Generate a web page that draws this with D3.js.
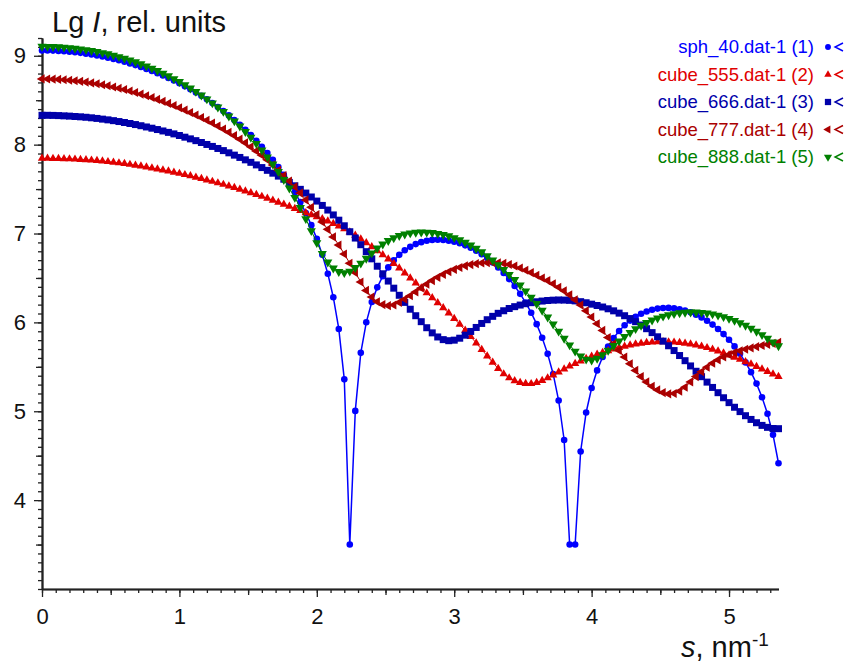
<!DOCTYPE html>
<html>
<head>
<meta charset="utf-8">
<script src="https://cdn.jsdelivr.net/npm/d3@7"></script>
<style>
body { margin: 0; background: #fff; }
text { font-family: "Liberation Sans", Arial, sans-serif; }
</style>
</head>
<body>
<div id="scatter"></div>
<script>
// s values (nm^-1)
var sValues = [0, 0.04, 0.08, 0.12, 0.16, 0.2, 0.24, 0.28, 0.32, 0.36,
    0.4, 0.44, 0.48, 0.52, 0.56, 0.6, 0.64, 0.68, 0.72, 0.76,
    0.8, 0.84, 0.88, 0.92, 0.96, 1, 1.04, 1.08, 1.12, 1.16,
    1.2, 1.24, 1.28, 1.32, 1.36, 1.4, 1.44, 1.48, 1.52, 1.56,
    1.6, 1.64, 1.68, 1.72, 1.76, 1.8, 1.84, 1.88, 1.92, 1.96,
    2, 2.04, 2.08, 2.12, 2.16, 2.2, 2.24, 2.28, 2.32, 2.36,
    2.4, 2.44, 2.48, 2.52, 2.56, 2.6, 2.64, 2.68, 2.72, 2.76,
    2.8, 2.84, 2.88, 2.92, 2.96, 3, 3.04, 3.08, 3.12, 3.16,
    3.2, 3.24, 3.28, 3.32, 3.36, 3.4, 3.44, 3.48, 3.52, 3.56,
    3.6, 3.64, 3.68, 3.72, 3.76, 3.8, 3.84, 3.88, 3.92, 3.96,
    4, 4.04, 4.08, 4.12, 4.16, 4.2, 4.24, 4.28, 4.32, 4.36,
    4.4, 4.44, 4.48, 4.52, 4.56, 4.6, 4.64, 4.68, 4.72, 4.76,
    4.8, 4.84, 4.88, 4.92, 4.96, 5, 5.04, 5.08, 5.12, 5.16,
    5.2, 5.24, 5.28, 5.32, 5.36];

// Lg I for each curve
var sph40 = [9.060, 9.059, 9.058, 9.055, 9.051, 9.046, 9.040, 9.033, 9.024, 9.015,
    9.004, 8.992, 8.979, 8.965, 8.949, 8.932, 8.914, 8.895, 8.874, 8.852,
    8.829, 8.804, 8.778, 8.750, 8.721, 8.690, 8.657, 8.623, 8.587, 8.549,
    8.510, 8.468, 8.424, 8.378, 8.329, 8.278, 8.224, 8.167, 8.107, 8.043,
    7.976, 7.905, 7.829, 7.747, 7.660, 7.566, 7.465, 7.353, 7.231, 7.094,
    6.940, 6.761, 6.548, 6.283, 5.926, 5.359, 3.500, 5.004, 5.657, 6.001,
    6.229, 6.394, 6.520, 6.619, 6.698, 6.760, 6.811, 6.850, 6.881, 6.903,
    6.919, 6.928, 6.931, 6.928, 6.920, 6.907, 6.890, 6.867, 6.839, 6.806,
    6.768, 6.724, 6.674, 6.619, 6.557, 6.487, 6.409, 6.321, 6.222, 6.109,
    5.980, 5.828, 5.646, 5.420, 5.121, 4.677, 3.500, 3.500, 4.547, 4.986,
    5.262, 5.460, 5.610, 5.729, 5.825, 5.903, 5.968, 6.020, 6.063, 6.097,
    6.123, 6.142, 6.155, 6.162, 6.163, 6.158, 6.148, 6.133, 6.113, 6.087,
    6.056, 6.018, 5.975, 5.925, 5.868, 5.804, 5.730, 5.646, 5.550, 5.440,
    5.311, 5.158, 4.972, 4.736, 4.415];

var cube555 = [7.845, 7.845, 7.844, 7.843, 7.841, 7.839, 7.836, 7.833, 7.829, 7.825,
    7.820, 7.814, 7.808, 7.801, 7.794, 7.786, 7.777, 7.768, 7.758, 7.748,
    7.737, 7.726, 7.714, 7.702, 7.689, 7.676, 7.662, 7.648, 7.633, 7.618,
    7.602, 7.586, 7.569, 7.552, 7.534, 7.516, 7.497, 7.478, 7.458, 7.438,
    7.417, 7.396, 7.374, 7.352, 7.329, 7.305, 7.281, 7.257, 7.232, 7.210,
    7.188, 7.165, 7.140, 7.113, 7.084, 7.052, 7.017, 6.979, 6.938, 6.895,
    6.850, 6.805, 6.760, 6.712, 6.662, 6.610, 6.555, 6.498, 6.442, 6.386,
    6.331, 6.276, 6.220, 6.163, 6.105, 6.043, 5.978, 5.910, 5.840, 5.768,
    5.695, 5.622, 5.550, 5.480, 5.420, 5.375, 5.343, 5.322, 5.311, 5.310,
    5.322, 5.345, 5.375, 5.408, 5.442, 5.475, 5.507, 5.537, 5.565, 5.592,
    5.617, 5.640, 5.661, 5.681, 5.699, 5.716, 5.731, 5.745, 5.756, 5.765,
    5.772, 5.777, 5.780, 5.781, 5.780, 5.777, 5.772, 5.765, 5.756, 5.745,
    5.731, 5.715, 5.697, 5.677, 5.655, 5.632, 5.608, 5.583, 5.557, 5.530,
    5.502, 5.474, 5.446, 5.418, 5.390];

var cube666 = [8.330, 8.330, 8.329, 8.327, 8.324, 8.321, 8.317, 8.313, 8.308, 8.302,
    8.295, 8.287, 8.279, 8.270, 8.260, 8.249, 8.238, 8.226, 8.213, 8.199,
    8.185, 8.170, 8.154, 8.138, 8.121, 8.103, 8.084, 8.065, 8.045, 8.024,
    8.002, 7.980, 7.957, 7.933, 7.908, 7.882, 7.856, 7.829, 7.801, 7.772,
    7.742, 7.711, 7.679, 7.646, 7.611, 7.575, 7.537, 7.497, 7.455, 7.411,
    7.365, 7.316, 7.264, 7.209, 7.150, 7.087, 7.020, 6.949, 6.874, 6.796,
    6.715, 6.632, 6.547, 6.465, 6.385, 6.305, 6.225, 6.148, 6.075, 6.008,
    5.940, 5.882, 5.836, 5.806, 5.794, 5.800, 5.822, 5.856, 5.898, 5.943,
    5.988, 6.030, 6.068, 6.102, 6.131, 6.156, 6.177, 6.195, 6.210, 6.222,
    6.232, 6.240, 6.246, 6.250, 6.252, 6.251, 6.248, 6.242, 6.233, 6.221,
    6.205, 6.190, 6.173, 6.153, 6.130, 6.104, 6.075, 6.043, 6.008, 5.970,
    5.929, 5.885, 5.838, 5.789, 5.737, 5.683, 5.627, 5.569, 5.510, 5.450,
    5.389, 5.328, 5.268, 5.209, 5.152, 5.097, 5.045, 4.996, 4.950, 4.908,
    4.871, 4.841, 4.819, 4.806, 4.804];

var cube777 = [8.740, 8.739, 8.737, 8.734, 8.730, 8.725, 8.719, 8.712, 8.704, 8.695,
    8.685, 8.674, 8.662, 8.649, 8.635, 8.620, 8.604, 8.587, 8.569, 8.550,
    8.530, 8.509, 8.487, 8.464, 8.440, 8.415, 8.389, 8.362, 8.334, 8.305,
    8.275, 8.243, 8.210, 8.176, 8.140, 8.102, 8.062, 8.020, 7.975, 7.928,
    7.880, 7.829, 7.772, 7.712, 7.652, 7.590, 7.525, 7.455, 7.378, 7.295,
    7.212, 7.130, 7.047, 6.962, 6.870, 6.770, 6.665, 6.560, 6.455, 6.360,
    6.285, 6.232, 6.200, 6.188, 6.195, 6.225, 6.260, 6.300, 6.343, 6.387,
    6.430, 6.470, 6.507, 6.540, 6.570, 6.596, 6.618, 6.636, 6.650, 6.661,
    6.668, 6.672, 6.673, 6.670, 6.664, 6.652, 6.635, 6.612, 6.587, 6.560,
    6.530, 6.500, 6.470, 6.435, 6.395, 6.355, 6.310, 6.255, 6.195, 6.130,
    6.060, 5.985, 5.910, 5.830, 5.760, 5.685, 5.610, 5.535, 5.460, 5.390,
    5.330, 5.280, 5.240, 5.210, 5.195, 5.200, 5.225, 5.270, 5.330, 5.390,
    5.445, 5.495, 5.540, 5.578, 5.610, 5.637, 5.660, 5.680, 5.698, 5.713,
    5.727, 5.740, 5.752, 5.764, 5.775];

var cube888 = [9.105, 9.104, 9.102, 9.099, 9.095, 9.090, 9.083, 9.076, 9.067, 9.057,
    9.046, 9.033, 9.020, 9.005, 8.988, 8.970, 8.951, 8.930, 8.908, 8.884,
    8.859, 8.832, 8.803, 8.773, 8.741, 8.708, 8.673, 8.636, 8.597, 8.556,
    8.513, 8.468, 8.421, 8.372, 8.320, 8.265, 8.207, 8.146, 8.081, 8.012,
    7.938, 7.860, 7.780, 7.695, 7.605, 7.510, 7.405, 7.290, 7.165, 7.030,
    6.895, 6.775, 6.678, 6.610, 6.570, 6.558, 6.575, 6.615, 6.665, 6.720,
    6.780, 6.835, 6.880, 6.920, 6.950, 6.975, 6.993, 7.005, 7.012, 7.015,
    7.014, 7.010, 7.000, 6.988, 6.972, 6.952, 6.928, 6.900, 6.868, 6.832,
    6.792, 6.748, 6.700, 6.648, 6.595, 6.538, 6.480, 6.418, 6.352, 6.282,
    6.210, 6.135, 6.058, 5.980, 5.900, 5.820, 5.745, 5.675, 5.620, 5.585,
    5.575, 5.595, 5.635, 5.685, 5.738, 5.790, 5.840, 5.886, 5.928, 5.966,
    5.998, 6.025, 6.048, 6.068, 6.084, 6.097, 6.106, 6.112, 6.115, 6.115,
    6.111, 6.104, 6.094, 6.080, 6.063, 6.043, 6.020, 5.994, 5.965, 5.933,
    5.898, 5.860, 5.820, 5.778, 5.735];

var seriesNames = ["sph_40.dat-1 (1)", "cube_555.dat-1 (2)", "cube_666.dat-1 (3)",
    "cube_777.dat-1 (4)", "cube_888.dat-1 (5)"];

// styles for each curve
var seriesStyle = [
    {values: sph40, color: "#0000ff", symbol: d3.symbolCircle, size: 34, rotate: 0, line: 1.5},
    {values: cube555, color: "#e00000", symbol: d3.symbolTriangle, size: 30, rotate: 0, line: 1},
    {values: cube666, color: "#0000aa", symbol: d3.symbolSquare, size: 49, rotate: 0, line: 1},
    {values: cube777, color: "#aa0000", symbol: d3.symbolTriangle, size: 36, rotate: -90, line: 1},
    {values: cube888, color: "#008000", symbol: d3.symbolTriangle, size: 36, rotate: 180, line: 1}
];

var svgWidth = 848;
var svgHeight = 664;

var chartMargins = {
    top: 38,
    left: 42
};
var chartWidth = 736.5;
var chartHeight = 551;

var svg = d3.select('#scatter')
    .append('svg')
    .attr('width', svgWidth)
    .attr('height', svgHeight)
    .style('display', 'block');

var chartGroup = svg.append('g')
    .attr('transform', `translate(${chartMargins.left},${chartMargins.top})`);

var xScale = d3.scaleLinear()
    .domain([0, 5.36])
    .range([0, chartWidth]);

var yScale = d3.scaleLinear()
    .domain([3, 9.2])
    .range([chartHeight, 0]);

// minor, half and major ticks
var xMinor = d3.range(0, 54).map(d => d / 10);
var xHalf = [0.5, 1.5, 2.5, 3.5, 4.5];
var yMinor = d3.range(30, 93).map(d => d / 10);
var yHalf = [3.5, 4.5, 5.5, 6.5, 7.5, 8.5];

function styleAxis(g) {
    g.select('.domain').attr('stroke', '#222').attr('stroke-width', 1.6);
    g.selectAll('.tick line').attr('stroke', '#222').attr('stroke-width', 1.3);
}

chartGroup.append('g')
    .attr('transform', `translate(0,${chartHeight})`)
    .call(d3.axisBottom(xScale).tickValues(xMinor).tickSize(4).tickFormat('').tickSizeOuter(0))
    .call(styleAxis);
chartGroup.append('g')
    .attr('transform', `translate(0,${chartHeight})`)
    .call(d3.axisBottom(xScale).tickValues(xHalf).tickSize(6).tickFormat('').tickSizeOuter(0))
    .call(styleAxis);
var xAxis = chartGroup.append('g')
    .attr('transform', `translate(0,${chartHeight})`)
    .call(d3.axisBottom(xScale).tickValues([0, 1, 2, 3, 4, 5]).tickSize(8).tickSizeOuter(0).tickFormat(d3.format('d')))
    .call(styleAxis);
xAxis.selectAll('text')
    .attr('y', 19)
    .attr('fill', '#111')
    .style('font-size', '22px');

chartGroup.append('g')
    .call(d3.axisLeft(yScale).tickValues(yMinor).tickSize(4).tickFormat('').tickSizeOuter(0))
    .call(styleAxis);
chartGroup.append('g')
    .call(d3.axisLeft(yScale).tickValues(yHalf).tickSize(6).tickFormat('').tickSizeOuter(0))
    .call(styleAxis);
var yAxis = chartGroup.append('g')
    .call(d3.axisLeft(yScale).tickValues([4, 5, 6, 7, 8, 9]).tickSize(8).tickSizeOuter(0).tickFormat(d3.format('d')))
    .call(styleAxis);
yAxis.selectAll('text')
    .attr('x', -16)
    .attr('fill', '#111')
    .style('font-size', '22px');

// curves
var line = d3.line()
    .x((d, i) => xScale(sValues[i]))
    .y(d => yScale(d));

seriesStyle.forEach(function (sr) {
    chartGroup.append('path')
        .datum(sr.values)
        .attr('fill', 'none')
        .attr('stroke', sr.color)
        .attr('stroke-width', sr.line)
        .attr('d', line);

    chartGroup.append('g')
        .selectAll('path')
        .data(sr.values)
        .enter()
        .append('path')
        .attr('d', d3.symbol().type(sr.symbol).size(sr.size))
        .attr('fill', sr.color)
        .attr('transform', (d, i) => `translate(${xScale(sValues[i])},${yScale(d)}) rotate(${sr.rotate})`);
});

// title
var title = svg.append('text')
    .attr('x', 52)
    .attr('y', 32)
    .attr('fill', '#111')
    .style('font-size', '29px');
title.append('tspan').text('Lg ');
title.append('tspan').style('font-style', 'italic').text('I');
title.append('tspan').text(', rel. units');

// x label
var xLabel = svg.append('text')
    .attr('x', 681)
    .attr('y', 657)
    .attr('fill', '#111')
    .style('font-size', '29px');
xLabel.append('tspan').style('font-style', 'italic').text('s');
xLabel.append('tspan').text(', nm');
xLabel.append('tspan').attr('dy', -11).style('font-size', '19px').text('-1');

// legend
var legend = svg.append('g');
seriesStyle.forEach(function (sr, i) {
    var ly = 47 + i * 27.5;
    legend.append('text')
        .attr('x', 814)
        .attr('y', ly)
        .attr('dy', '0.35em')
        .attr('text-anchor', 'end')
        .attr('fill', sr.color)
        .style('font-size', '18.5px')
        .text(seriesNames[i]);
    legend.append('path')
        .attr('d', d3.symbol().type(sr.symbol).size(sr.size * 0.8))
        .attr('fill', sr.color)
        .attr('transform', `translate(828,${ly}) rotate(${sr.rotate})`);
    legend.append('path')
        .attr('d', `M843,${ly - 4}L835,${ly}L843,${ly + 4}`)
        .attr('fill', 'none')
        .attr('stroke', sr.color)
        .attr('stroke-width', 1.4);
});
</script>
</body>
</html>
